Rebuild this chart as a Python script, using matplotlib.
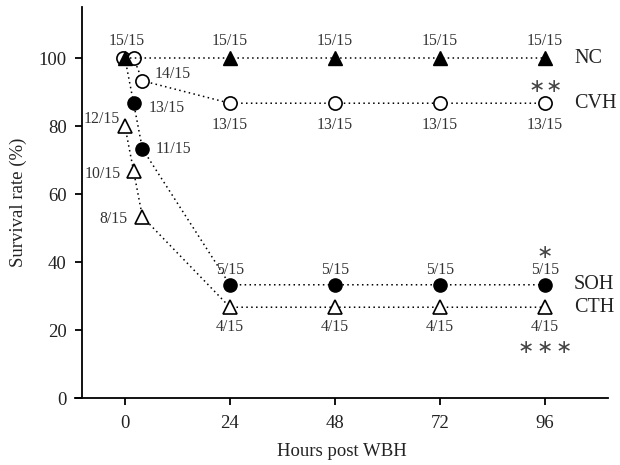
import matplotlib
matplotlib.use("Agg")
import matplotlib.pyplot as plt

plt.rcParams['font.family'] = ['Liberation Serif', 'DejaVu Serif']

# ---- data ----
hours_ticks = [0, 24, 48, 72, 96]
y_ticks = [0, 20, 40, 60, 80, 100]

hours_nc = [0, 24, 48, 72, 96]
surv_nc = [100, 100, 100, 100, 100]
lab_nc = ["15/15", "15/15", "15/15", "15/15", "15/15"]

hours_cvh = [-0.5, 2, 4, 24, 48, 72, 96]
surv_cvh = [100, 100, 93.3, 86.7, 86.7, 86.7, 86.7]
lab_cvh = [None, None, "14/15", "13/15", "13/15", "13/15", "13/15"]

hours_soh = [0, 2, 4, 24, 48, 72, 96]
surv_soh = [100, 86.7, 73.3, 33.3, 33.3, 33.3, 33.3]
lab_soh = [None, "13/15", "11/15", "5/15", "5/15", "5/15", "5/15"]

hours_cth = [0, 2, 4, 24, 48, 72, 96]
surv_cth = [80, 66.7, 53.3, 26.7, 26.7, 26.7, 26.7]
lab_cth = ["12/15", "10/15", "8/15", "4/15", "4/15", "4/15", "4/15"]

group_names = ["NC", "CVH", "SOH", "CTH"]
signif_count = {"CVH": 2, "SOH": 1, "CTH": 3}

# ---- figure ----
fig = plt.figure(figsize=(6.2, 4.65), dpi=100)
ax = fig.add_axes([75/620, 1-398/465, (608-75)/620, (398-7)/465])

px = 0.72  # points per pixel
lkw = dict(color='black', linestyle=(0, (1, 2.2)), linewidth=1.1)

ax.plot(hours_cth, surv_cth, marker='^', markersize=9.5, markerfacecolor='white',
        markeredgecolor='black', markeredgewidth=1.2, zorder=3, **lkw)
ax.plot(hours_soh, surv_soh, marker='o', markersize=9.5, markerfacecolor='black',
        markeredgecolor='black', markevery=[1, 2, 3, 4, 5, 6], zorder=4, **lkw)
ax.plot(hours_cvh, surv_cvh, marker='o', markersize=9.5, markerfacecolor='white',
        markeredgecolor='black', markeredgewidth=1.2, zorder=5, **lkw)
ax.plot(hours_nc, surv_nc, marker='^', markersize=9.5, markerfacecolor='black',
        markeredgecolor='black', zorder=6, **lkw)

tc = '#333333'
fs = 11.3

def lab(x, y, s, dx, dy):
    ax.annotate(s, (x, y), xytext=(dx*px, dy*px), textcoords='offset points',
                ha='center', va='center', fontsize=fs, color=tc, zorder=10)

for x, y, s in zip(hours_nc, surv_nc, lab_nc):
    lab(x, y, s, 2 if x == 0 else 0, 17)

cvh_off = {2: (30, 7)}
for i, (x, y, s) in enumerate(zip(hours_cvh, surv_cvh, lab_cvh)):
    if s is None:
        continue
    dx, dy = cvh_off.get(i, (0, -22))
    lab(x, y, s, dx, dy)

soh_off = {1: (33, -5), 2: (31, 0)}
for i, (x, y, s) in enumerate(zip(hours_soh, surv_soh, lab_soh)):
    if s is None:
        continue
    dx, dy = soh_off.get(i, (0, 15))
    lab(x, y, s, dx, dy)

cth_off = {0: (-23, 7), 1: (-31, -3), 2: (-29, -2)}
for i, (x, y, s) in enumerate(zip(hours_cth, surv_cth, lab_cth)):
    dx, dy = cth_off.get(i, (0, -20))
    lab(x, y, s, dx, dy)

# group names on the right
last_vals = [surv_nc[-1], surv_cvh[-1], surv_soh[-1], surv_cth[-1]]
for name, v in zip(group_names, last_vals):
    ax.annotate(name, (96, v), xytext=(29*px, 0), textcoords='offset points',
                ha='left', va='center', fontsize=14.5, color='#222222')

# significance stars
sig_pos = {"CVH": (surv_cvh[-1], 17, 17), "SOH": (surv_soh[-1], 32, 0),
           "CTH": (surv_cth[-1], -40, 19)}
for name, (v, dy, gap) in sig_pos.items():
    n = signif_count[name]
    for k in range(n):
        dx = (k - (n - 1) / 2) * gap
        ax.annotate("\u2217", (96, v), xytext=(dx*px, dy*px), textcoords='offset points',
                    ha='center', va='center', fontsize=14, color='#444444',
                    family=['DejaVu Sans'])

# axes styling
ax.set_xlim(-11.4, 110.4)
ax.set_ylim(0, 115)
ax.spines['top'].set_visible(False)
ax.spines['right'].set_visible(False)
ax.spines['left'].set_position(('data', -9.8))
for sp in ['left', 'bottom']:
    ax.spines[sp].set_linewidth(1.3)
ax.set_xticks(hours_ticks)
ax.set_yticks(y_ticks)
ax.tick_params(axis='both', direction='out', length=5, width=1.3,
               labelsize=13.5, labelcolor='#222222')
ax.tick_params(axis='y', pad=6)
ax.tick_params(axis='x', pad=7)
ax.set_xlabel("Hours post WBH", fontsize=13.5, color='#222222', labelpad=8)
ax.set_ylabel("Survival rate (%)", fontsize=13.5, color='#222222', labelpad=8)

fig.savefig("out.png", dpi=100)
